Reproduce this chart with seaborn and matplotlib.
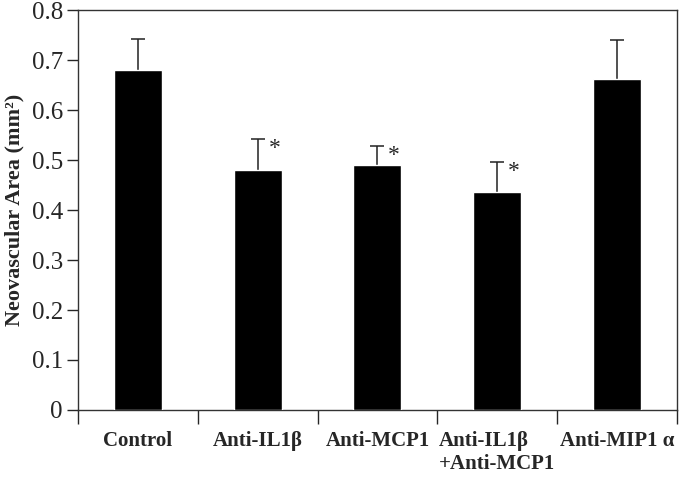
import numpy as np
import pandas as pd
import matplotlib
matplotlib.use("Agg")
import matplotlib.pyplot as plt
import seaborn as sns

# values
groups = ["Control", "Anti-IL1\u03b2", "Anti-MCP1", "Anti-IL1\u03b2\n+Anti-MCP1", "Anti-MIP1 \u03b1"]
area = [0.680, 0.481, 0.490, 0.437, 0.663]
err_up = [0.062, 0.061, 0.038, 0.059, 0.077]
signif = ["", "*", "*", "*", ""]

sns.set_style("ticks")
plt.rcParams['font.family'] = ['Liberation Serif', 'DejaVu Serif']

df = pd.DataFrame({'group': groups, 'area': area})

fig = plt.figure(figsize=(6.85, 4.84), dpi=100)
ax = fig.add_axes([0.114, 0.153, 0.874, 0.826])

sns.barplot(data=df, x='group', y='area', color='black', width=0.4,
            errorbar=None, ax=ax, saturation=1, zorder=3)

x = np.arange(len(groups))
eb = ax.errorbar(x, area, yerr=[np.zeros(len(area)), err_up], fmt='none',
                 ecolor='#222222', elinewidth=1.1, capsize=5, capthick=1.1, zorder=2)
eb[1][0].set_visible(False)  # no cap at the bar top

for xi, yi, e, s in zip(x, area, err_up, signif):
    if s:
        ax.annotate(s, (xi, yi + e), xytext=(12, -7), textcoords='offset points',
                    ha='center', va='center', fontsize=17)

ax.set_xlim(-0.5, len(groups) - 0.5)
ax.set_ylim(0, 0.8)
ax.set_yticks(np.arange(0, 0.81, 0.1))
ax.set_yticklabels(['0'] + ['%.1f' % v for v in np.arange(0.1, 0.81, 0.1)])
ax.tick_params(axis='y', labelsize=18, length=8, width=1, direction='out', pad=3)

# group separators below the axis instead of centred ticks
ax.set_xticks(np.arange(-0.5, len(groups), 1.0))
ax.set_xticklabels([])
ax.set_xticks(x, minor=True)
ax.set_xticklabels(groups, minor=True, fontsize=15, fontweight='bold',
                   multialignment='left')
ax.tick_params(axis='x', which='major', length=10, width=1, direction='out')
ax.tick_params(axis='x', which='minor', length=0, pad=15)

ax.set_xlabel('')
ax.set_ylabel('Neovascular Area (mm\u00b2)', fontsize=16, fontweight='bold')
ax.yaxis.set_label_coords(-0.09, 0.5)

for sp in ax.spines.values():
    sp.set_visible(True)
    sp.set_linewidth(1)
    sp.set_color('#333333')

fig.savefig('out.png', dpi=100)
